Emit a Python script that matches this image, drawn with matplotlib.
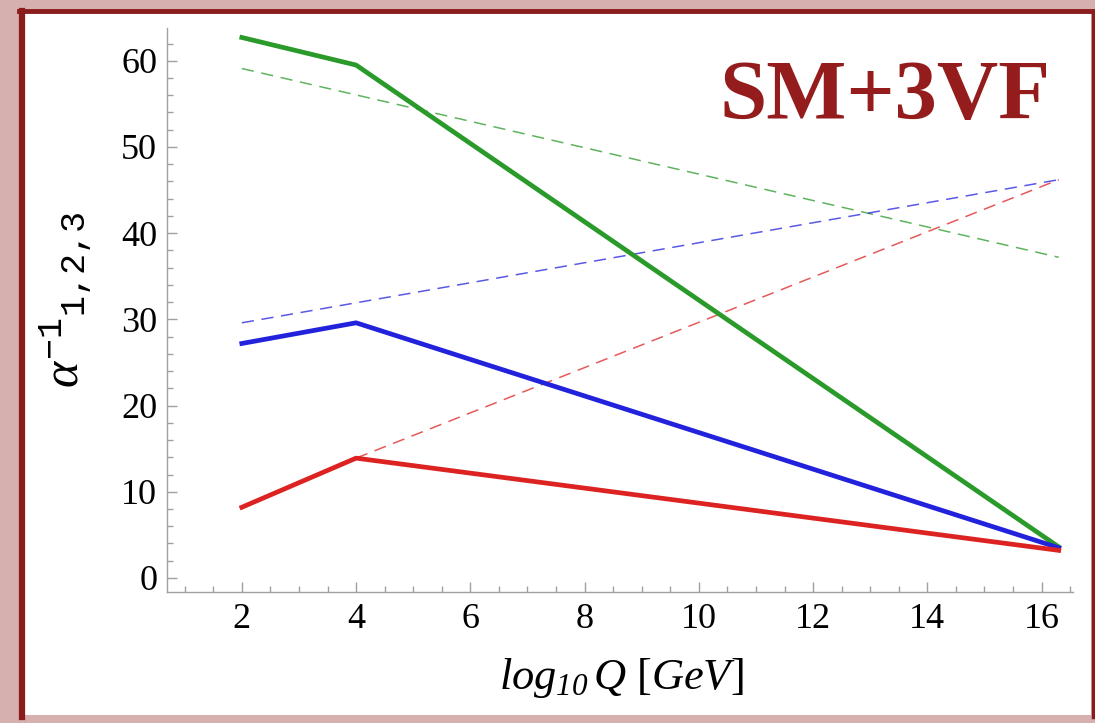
import matplotlib
matplotlib.use("Agg")
import matplotlib.pyplot as plt
from matplotlib.lines import Line2D
from matplotlib.patches import Rectangle
from matplotlib.ticker import MultipleLocator

plt.rcParams["mathtext.fontset"] = "custom"
plt.rcParams["mathtext.rm"] = "Liberation Serif"
plt.rcParams["mathtext.it"] = "Liberation Serif:italic"
plt.rcParams["mathtext.sf"] = "Liberation Serif:italic"
plt.rcParams["mathtext.tt"] = "Liberation Mono"
plt.rcParams["font.family"] = "Liberation Serif"

# solid: running with the extra vector-like fermions, dashed: plain SM
x_solid = [2, 4, 16.3]
a1_solid = [8.2, 13.9, 3.2]    # red
a2_solid = [27.2, 29.6, 3.5]   # blue
a3_solid = [62.7, 59.5, 3.6]   # green

x_dash = [2, 16.3]
a2_dash = [29.6, 46.2]
a3_dash = [59.1, 37.2]
x_dash_red = [4, 16.3]
a1_dash = [13.9, 46.2]

xticks = [2, 4, 6, 8, 10, 12, 14, 16]
yticks = [0, 10, 20, 30, 40, 50, 60]

RED = "#dd2222"
BLUE = "#2222dd"
GREEN = "#2a9a2a"

fig = plt.figure(figsize=(10.95, 7.23), dpi=100)
fig.patch.set_facecolor("#d6b0ae")

W, H = 1095.0, 723.0
# white panel with the dark red frame
fig.patches.append(Rectangle((25 / W, 1 - 715 / H), (1091 - 25) / W, (715 - 13) / H,
                             transform=fig.transFigure, facecolor="white",
                             edgecolor="none", zorder=-5))
frame = "#8b1c1c"
fig.lines.append(Line2D([21.5 / W, 21.5 / W], [1 - 717 / H, 1 - 10.5 / H],
                        transform=fig.transFigure, color=frame, lw=4.5))
fig.lines.append(Line2D([19 / W, 1093 / W], [1 - 10.5 / H, 1 - 10.5 / H],
                        transform=fig.transFigure, color=frame, lw=3.5))
fig.lines.append(Line2D([1092.5 / W, 1092.5 / W], [1 - 717 / H, 1 - 10.5 / H],
                        transform=fig.transFigure, color=frame, lw=2.5))

ax = fig.add_axes([167 / W, 1 - 592 / H, (1073 - 167) / W, (592 - 28) / H])
ax.set_facecolor("none")
ax.set_xlim(0.69, 16.55)
ax.set_ylim(-1.63, 63.8)

for s in ["top", "right"]:
    ax.spines[s].set_visible(False)
for s in ["left", "bottom"]:
    ax.spines[s].set_color("#a0a0a0")
    ax.spines[s].set_linewidth(1.0)

ax.set_xticks(xticks)
ax.set_yticks(yticks)
ax.xaxis.set_minor_locator(MultipleLocator(0.5))
ax.yaxis.set_minor_locator(MultipleLocator(2))
ax.tick_params(which="both", direction="in", color="#a0a0a0", width=1.0)
ax.tick_params(which="major", length=7)
ax.tick_params(which="minor", length=4)
ax.tick_params(axis="x", which="major", labelsize=26, pad=8)
ax.tick_params(axis="y", which="major", labelsize=26, pad=7)

ax.plot(x_dash, a3_dash, color=GREEN, lw=1.1, dashes=(8, 5), alpha=0.75)
ax.plot(x_dash, a2_dash, color=BLUE, lw=1.1, dashes=(8, 5), alpha=0.75)
ax.plot(x_dash_red, a1_dash, color=RED, lw=1.1, dashes=(8, 5), alpha=0.75)

ax.plot(x_solid, a3_solid, color=GREEN, lw=3.4, solid_joinstyle="round")
ax.plot(x_solid, a2_solid, color=BLUE, lw=3.4, solid_joinstyle="round")
ax.plot(x_solid, a1_solid, color=RED, lw=3.4, solid_joinstyle="round")

fig.text(621 / W, 1 - 678 / H, r"$log_{\mathsf{10}}\,Q\ [GeV]$",
         fontsize=32, ha="center", va="center")
fig.text(65 / W, 1 - 300 / H, r"$\alpha^{\mathtt{-1}}{}_{\mathtt{1{,}2{,}3}}$",
         fontsize=36, rotation=90, ha="center", va="center")

fig.text(885 / W, 1 - 99 / H, "SM+3VF", fontsize=61, fontweight="bold",
         color="#951c1c", ha="center", va="center")

fig.savefig("out.png", dpi=100, facecolor=fig.get_facecolor())
